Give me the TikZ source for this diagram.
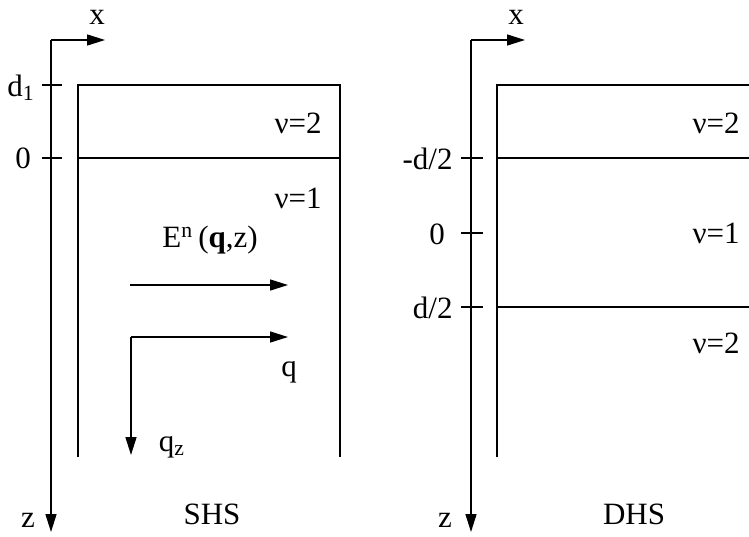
\documentclass[tikz,border=0pt]{standalone}
\usepackage{fontspec}
\setmainfont{Liberation Serif}
\usetikzlibrary{arrows.meta, positioning}

\begin{document}
\begin{tikzpicture}[
          x=0.5pt, y=-0.5pt,
          lbl/.style={inner sep=0pt, font=\fontsize{15.5}{18}\selectfont},
          axis/.style={line width=0.75pt, -{Triangle[length=9pt, width=5.5pt]}},
          layer/.style={line width=1.1pt},
          tick/.style={line width=0.75pt},
        ]
          \useasboundingbox (0,0) rectangle (749,536);
          % single heterostructure
          \coordinate (o1) at (51,40);
          \draw[axis] (o1)--(105,40) coordinate (x1);
          \draw[axis] (o1)--(51,532) coordinate (z1);
          \node[lbl] (xl1) at (97,17) {x};
          \node[lbl] (zl1) at (28,520) {z};
          \draw[tick] (42,85)--(62,85);
          \draw[tick] (42,158)--(62,158);
          \node[lbl] (d1) at (21,88) {d\textsubscript{1}};
          \node[lbl] (n1) at (23,158) {0};
          \draw[layer] (78,457)--(78,85)--(340,85)--(340,457);
          \draw[layer] (78,158)--(340,158);
          \node[lbl] (v2a) at (298,123) {ν=2};
          \node[lbl] (v1a) at (298,198) {ν=1};
          \node[lbl] (en) at (210,240) {E\textsuperscript{n}\,(\textbf{q},z)};
          \coordinate (ea) at (130,285);
          \coordinate (eb) at (288,285);
          \draw[axis] (ea)--(eb);
          \coordinate (qc) at (131,337);
          \draw[axis] (qc)--(288,337) coordinate (qx);
          \draw[axis] (qc)--(131,455) coordinate (qz);
          \node[lbl] (ql) at (289,372) {q};
          \node[lbl] (qzl) at (172,447) {q\textsubscript{z}};
          \node[lbl] (shs) at (212,514) {SHS};
          % double heterostructure
          \coordinate (o2) at (471,40);
          \draw[axis] (o2)--(525,40) coordinate (x2);
          \draw[axis] (o2)--(471,532) coordinate (z2);
          \node[lbl] (xl2) at (516,17) {x};
          \node[lbl] (zl2) at (445,520) {z};
          \foreach \y in {158,233,307} \draw[tick] (461,\y)--(483,\y);
          \node[lbl, anchor=east] (md) at (453,159) {-d/2};
          \node[lbl] (n2) at (437,234) {0};
          \node[lbl, anchor=east] (pd) at (453,308) {d/2};
          \draw[layer] (497,457)--(497,85)--(749,85);
          \draw[layer] (497,158)--(749,158);
          \draw[layer] (497,307)--(749,307);
          \node[lbl] (v2b) at (716,123) {ν=2};
          \node[lbl] (v1b) at (716,233) {ν=1};
          \node[lbl] (v2c) at (716,343) {ν=2};
          \node[lbl] (dhs) at (634,514) {DHS};
        \end{tikzpicture}
\end{document}
